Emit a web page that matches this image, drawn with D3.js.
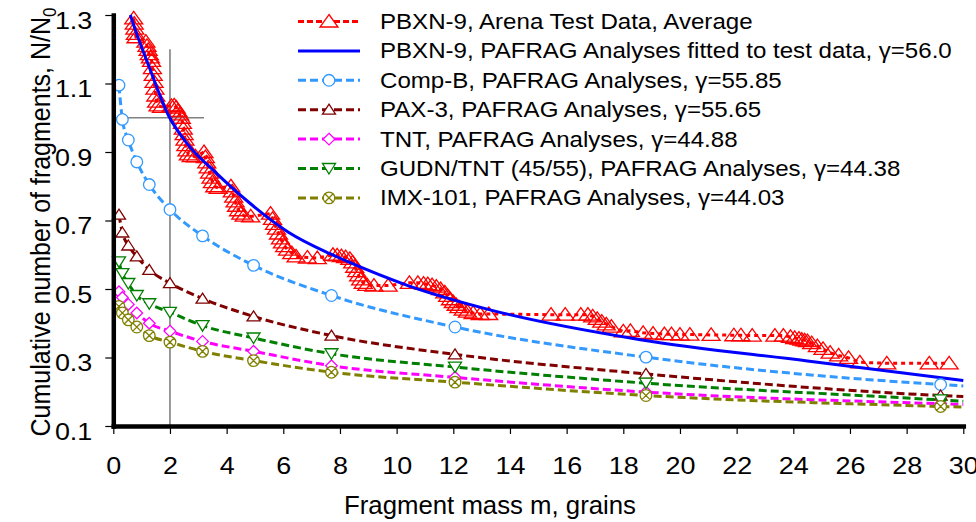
<!DOCTYPE html>
<html>
<head>
<meta charset="utf-8">
<script src="https://cdn.jsdelivr.net/npm/d3@7"></script>
<style>
	body { margin: 0; background: #ffffff; }
	svg text { font-family: "Liberation Sans", Arial, sans-serif; fill: #000000; }
</style>
</head>
<body>
<script>
// PAFRAG analyses share the same marker masses, last value is where the line ends
var analysisMass = [0.2, 0.32, 0.53, 0.83, 1.27, 2.0, 3.15, 4.95, 7.7, 12.06, 18.8, 29.2, 30];
var compB = [1.095, 0.995, 0.935, 0.871, 0.805, 0.732, 0.655, 0.569, 0.481, 0.389, 0.301, 0.221, 0.217];
var pax3  = [0.717, 0.665, 0.627, 0.595, 0.556, 0.517, 0.472, 0.42, 0.364, 0.309, 0.252, 0.189, 0.186];
var tnt   = [0.492, 0.475, 0.455, 0.43, 0.40, 0.377, 0.347, 0.318, 0.276, 0.242, 0.199, 0.165, 0.163];
var gudn  = [0.579, 0.545, 0.516, 0.481, 0.457, 0.432, 0.393, 0.357, 0.311, 0.272, 0.225, 0.176, 0.172];
var imx   = [0.449, 0.43, 0.41, 0.389, 0.364, 0.345, 0.318, 0.291, 0.257, 0.228, 0.189, 0.157, 0.155];

// PBXN-9 fit
var fitMass  = [0.6, 0.77, 1.24, 1.94, 2.65, 3.59, 4.77, 6.18, 7.65, 8.3, 10.4, 13.4, 18.6, 24.5, 30];
var fitRatio = [1.30, 1.258, 1.154, 1.008, 0.92, 0.842, 0.754, 0.666, 0.603, 0.579, 0.51, 0.437, 0.352, 0.29, 0.233];

// PBXN-9 arena test average
var testMass = [0.72, 0.74, 0.76, 0.78, 0.80,
	1.15, 1.19, 1.23, 1.27, 1.31, 1.35,
	1.38, 1.41, 1.44, 1.47, 1.50, 1.53, 1.58, 1.70,
	2.05, 2.15, 2.22, 2.28, 2.34, 2.40,
	2.44, 2.47, 2.50, 2.53, 2.56, 2.60, 2.65, 2.75, 2.90,
	3.20, 3.25, 3.30, 3.35, 3.40, 3.45, 3.50, 3.58, 3.70,
	4.15, 4.20, 4.25, 4.30, 4.35, 4.42, 4.50, 4.62, 4.85,
	5.55, 5.62, 5.69, 5.76, 5.83, 5.90, 5.97, 6.05, 6.15, 6.30,
	6.45, 6.85, 7.20,
	7.75, 7.90, 8.05, 8.20, 8.35, 8.45, 8.52, 8.59, 8.66, 8.73, 8.82, 8.95, 9.20, 9.70,
	10.45, 10.75, 10.95, 11.10, 11.25, 11.40, 11.55, 11.70, 11.80, 11.90, 12.00, 12.10, 12.20, 12.35, 12.50, 12.70, 12.95, 13.25,
	15.45, 15.95, 16.50, 16.75, 16.92, 17.08, 17.24, 17.40, 17.58, 18.00, 18.25, 18.70, 19.05,
	19.45, 19.70, 20.00, 20.35, 21.10, 21.90, 22.15, 22.55, 23.35, 23.65, 23.90, 24.05, 24.20, 24.30, 24.40, 24.50,
	24.65, 24.85, 25.05, 25.30, 25.60, 25.95, 26.35, 27.30, 28.80, 29.50];
var testRatio = [1.29, 1.275, 1.26, 1.245, 1.235,
	1.222, 1.21, 1.198, 1.186, 1.176, 1.166,
	1.145, 1.125, 1.105, 1.085, 1.065, 1.047, 1.036, 1.032,
	1.035, 1.036, 1.03, 1.02, 1.01, 1.0,
	0.985, 0.968, 0.952, 0.936, 0.92, 0.905, 0.893, 0.888, 0.887,
	0.90, 0.885, 0.87, 0.855, 0.84, 0.825, 0.812, 0.80, 0.795,
	0.80, 0.785, 0.77, 0.756, 0.743, 0.73, 0.72, 0.714, 0.712,
	0.72, 0.705, 0.69, 0.676, 0.662, 0.648, 0.636, 0.625, 0.615, 0.605,
	0.595, 0.592, 0.59,
	0.60, 0.598, 0.596, 0.593, 0.588, 0.578, 0.565, 0.552, 0.54, 0.528, 0.518, 0.512, 0.51, 0.51,
	0.518, 0.518, 0.516, 0.514, 0.511, 0.507, 0.50, 0.49, 0.48, 0.47, 0.462, 0.454, 0.447, 0.44, 0.434, 0.43, 0.427, 0.427,
	0.425, 0.425, 0.425, 0.425, 0.42, 0.413, 0.405, 0.397, 0.39, 0.376, 0.378, 0.372, 0.37,
	0.368, 0.368, 0.367, 0.367, 0.366, 0.365, 0.365, 0.364, 0.364, 0.364, 0.36, 0.357, 0.355, 0.352, 0.35, 0.348,
	0.342, 0.333, 0.325, 0.314, 0.306, 0.299, 0.286, 0.283, 0.283, 0.283];

var legendLabels = ["PBXN-9, Arena Test Data, Average",
	"PBXN-9, PAFRAG Analyses fitted to test data, \u03b3=56.0",
	"Comp-B, PAFRAG Analyses, \u03b3=55.85",
	"PAX-3, PAFRAG Analyses, \u03b3=55.65",
	"TNT, PAFRAG Analyses, \u03b3=44.88",
	"GUDN/TNT (45/55), PAFRAG Analyses, \u03b3=44.38",
	"IMX-101, PAFRAG Analyses, \u03b3=44.03"];

var xTicks = [0, 2, 4, 6, 8, 10, 12, 14, 16, 18, 20, 22, 24, 26, 28, 30];
var yTicks = [0.1, 0.3, 0.5, 0.7, 0.9, 1.1, 1.3];

// grey reading guide at m = 2 grains, N/N0 = 1
var guideV = [[2, 0.1], [2, 1.2]];
var guideH = [[0, 1.0], [3.2, 1.0]];

var width = 976, height = 522;
var margin = {left: 113.3, right: 12.7, top: 15, bottom: 96};

var svg = d3.select("body")
	.append("svg")
	.attr("width", width)
	.attr("height", height);

var xScale = d3.scaleLinear().domain([0, 30]).range([margin.left, width - margin.right]);
var yScale = d3.scaleLinear().domain([0.1, 1.3]).range([height - margin.bottom, margin.top]);

function zip(a, b){
	return a.map(function(d, i){ return [d, b[i]]; });
}

function markerPath(type){
	var c = "M-5.8,0A5.8,5.8 0 1,0 5.8,0A5.8,5.8 0 1,0 -5.8,0Z";
	switch(type){
		case "bigTri": return "M0,-7L9,5.5L-9,5.5Z";
		case "tri": return "M0,-5.5L6.5,4.5L-6.5,4.5Z";
		case "invTri": return "M0,5.5L6.5,-5L-6.5,-5Z";
		case "diamond": return "M0,-5.8L5.8,0L0,5.8L-5.8,0Z";
		case "circle": return c;
		case "xCircle": return c + "M-4.1,-4.1L4.1,4.1M4.1,-4.1L-4.1,4.1";
	}
	return "";
}

var series = [
	{mass: testMass, ratio: testRatio, color: "#ff0000", dash: "4,4", marker: "bigTri", fill: "none", count: testMass.length, curve: d3.curveLinear},
	{mass: fitMass, ratio: fitRatio, color: "#0000ff", dash: null, marker: null, count: 0, curve: d3.curveMonotoneX},
	{mass: analysisMass, ratio: compB, color: "#3399ff", dash: "8,4", marker: "circle", fill: "#ffffff", count: 12, curve: d3.curveMonotoneX},
	{mass: analysisMass, ratio: pax3, color: "#800000", dash: "8,4", marker: "tri", fill: "#ffffff", count: 12, curve: d3.curveMonotoneX},
	{mass: analysisMass, ratio: tnt, color: "#ff00ff", dash: "8,4", marker: "diamond", fill: "#ffffff", count: 12, curve: d3.curveMonotoneX},
	{mass: analysisMass, ratio: gudn, color: "#008000", dash: "8,4", marker: "invTri", fill: "#ffffff", count: 12, curve: d3.curveMonotoneX},
	{mass: analysisMass, ratio: imx, color: "#808000", dash: "8,4", marker: "xCircle", fill: "#ffffff", count: 12, curve: d3.curveMonotoneX}
];

// guide lines
var guideLine = d3.line()
	.x(function(d){ return xScale(d[0]); })
	.y(function(d){ return yScale(d[1]); });

[guideV, guideH].forEach(function(g){
	svg.append("path")
		.attr("d", guideLine(g))
		.attr("stroke", "#808080")
		.attr("stroke-width", 1.6)
		.attr("fill", "none");
});

series.forEach(function(s){
	var pts = zip(s.mass, s.ratio);
	var line = d3.line()
		.curve(s.curve)
		.x(function(d){ return xScale(d[0]); })
		.y(function(d){ return yScale(d[1]); });

	var g = svg.append("g");
	g.append("path")
		.attr("d", line(pts))
		.attr("fill", "none")
		.attr("stroke", s.color)
		.attr("stroke-width", 3)
		.attr("stroke-dasharray", s.dash);

	if(s.marker){
		g.selectAll("path.marker")
			.data(pts.slice(0, s.count))
			.enter()
			.append("path")
			.attr("class", "marker")
			.attr("transform", function(d){ return "translate(" + xScale(d[0]) + "," + yScale(d[1]) + ")"; })
			.attr("d", markerPath(s.marker))
			.attr("fill", s.fill)
			.attr("stroke", s.color)
			.attr("stroke-width", 1.3);
	}
});

// stretch text sideways like the original export
function widen(sel, k){
	sel.each(function(){
		var w = this.getComputedTextLength();
		d3.select(this).attr("textLength", w * k).attr("lengthAdjust", "spacingAndGlyphs");
	});
}

var xAxis = d3.axisBottom(xScale).tickValues(xTicks).tickSize(8).tickSizeOuter(0).tickPadding(24);
var yAxis = d3.axisLeft(yScale).tickValues(yTicks).tickSize(8).tickSizeOuter(0).tickPadding(13)
	.tickFormat(d3.format(".1f"));

var xAxisGroup = svg.append("g")
	.attr("transform", "translate(0," + yScale(0.1) + ")")
	.call(xAxis);

var yAxisGroup = svg.append("g")
	.attr("transform", "translate(" + xScale(0) + ",0)")
	.call(yAxis);

[xAxisGroup, yAxisGroup].forEach(function(a){
	a.attr("font-size", 23).attr("font-family", null);
	a.select(".domain").attr("stroke", "#000").attr("stroke-width", 4.5).attr("stroke-linecap", "square");
	a.selectAll(".tick line").attr("stroke", "#000").attr("stroke-width", 1.2);
	widen(a.selectAll(".tick text"), 1.17);
});
yAxisGroup.selectAll(".tick text").attr("dy", "0.58em");

// axis titles
var xTitle = svg.append("text")
	.attr("x", 490)
	.attr("y", 514)
	.attr("text-anchor", "middle")
	.attr("font-size", 25)
	.text("Fragment mass m, grains");
widen(xTitle, 1.03);

var yTitle = svg.append("text")
	.attr("transform", "translate(50,222) rotate(-90) scale(1,1.12)")
	.attr("text-anchor", "middle")
	.attr("font-size", 25);
yTitle.append("tspan").text("Cumulative number of fragments, N/N");
yTitle.append("tspan").attr("font-size", 17).attr("dy", 5).text("0");

// legend
var legend = svg.append("g").attr("transform", "translate(298,21.5)");
var rows = legend.selectAll("g")
	.data(series)
	.enter()
	.append("g")
	.attr("transform", function(d, i){ return "translate(0," + i * 29.4 + ")"; });

rows.append("line")
	.attr("x1", 0).attr("x2", 62)
	.attr("stroke", function(d){ return d.color; })
	.attr("stroke-width", 3)
	.attr("stroke-dasharray", function(d){ return d.dash == "4,4" ? "6,3" : d.dash; });

rows.filter(function(d){ return d.marker; })
	.append("path")
	.attr("transform", "translate(31,0)")
	.attr("d", function(d){ return markerPath(d.marker); })
	.attr("fill", "#ffffff")
	.attr("stroke", function(d){ return d.color; })
	.attr("stroke-width", 1.3);

var legendText = rows.append("text")
	.attr("x", 82)
	.attr("dy", "0.35em")
	.attr("font-size", 21.5)
	.text(function(d, i){ return legendLabels[i]; });
widen(legendText, 1.12);
</script>
</body>
</html>
